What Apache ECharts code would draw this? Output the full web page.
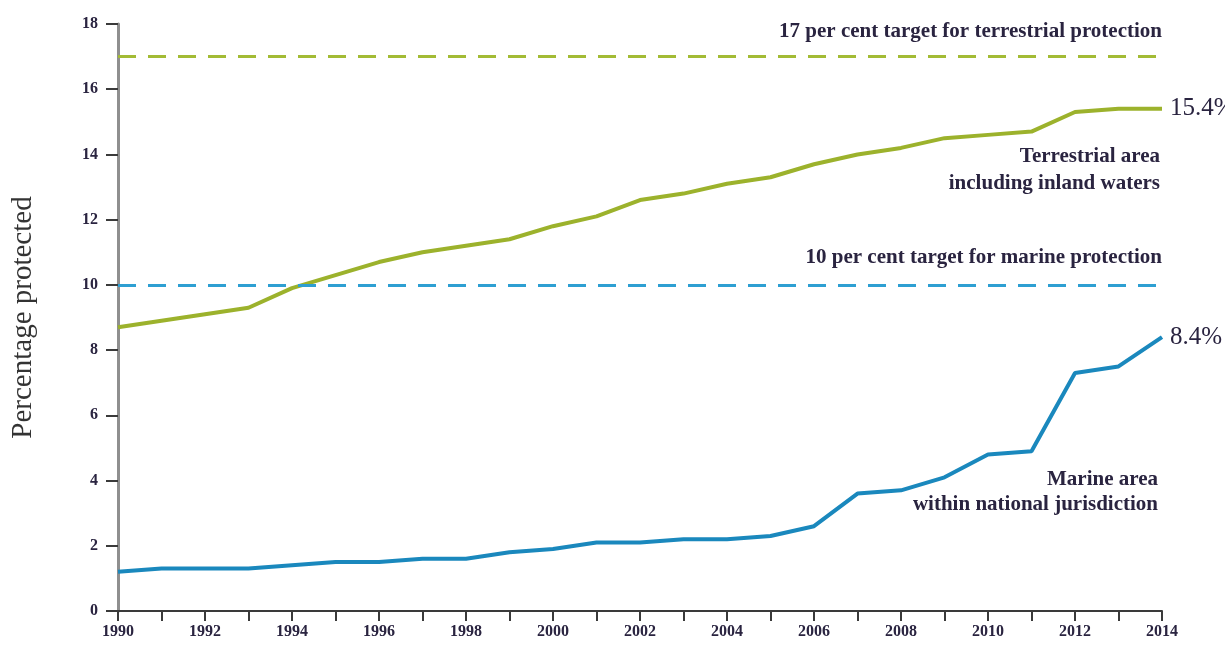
<!DOCTYPE html>
<html><head><meta charset="utf-8">
<script src="https://cdn.jsdelivr.net/npm/echarts@6/dist/echarts.min.js"></script>
<style>html,body{margin:0;padding:0;background:#fff}#c{width:1225px;height:646px}</style>
</head><body><div id="c"></div>
<script>
const years = [1990,1991,1992,1993,1994,1995,1996,1997,1998,1999,2000,2001,2002,2003,2004,2005,2006,2007,2008,2009,2010,2011,2012,2013,2014];
const terrestrial = [8.7,8.9,9.1,9.3,9.9,10.3,10.7,11.0,11.2,11.4,11.8,12.1,12.6,12.8,13.1,13.3,13.7,14.0,14.2,14.5,14.6,14.7,15.3,15.4,15.4];
const marine = [1.2,1.3,1.3,1.3,1.4,1.5,1.5,1.6,1.6,1.8,1.9,2.1,2.1,2.2,2.2,2.3,2.6,3.6,3.7,4.1,4.8,4.9,7.3,7.5,8.4];
const terrestrialTarget = 17;
const marineTarget = 10;
const yTicks = [0,2,4,6,8,10,12,14,16,18];

const green = '#9cb22c', blue = '#1a88bd';
const greenDash = '#a3bb35', blueDash = '#2e9fd2';
const serif = '"Liberation Serif","DejaVu Serif",serif';
const txt = '#2a2440';

const chart = echarts.init(document.getElementById('c'), null, {renderer:'canvas'});
const seriesData = (arr) => years.map((y,i)=>[y,arr[i]]);
chart.setOption({
  animation:false,
  grid:{left:118,right:63,top:24,bottom:35,containLabel:false},
  xAxis:{type:'value',min:1990,max:2014,interval:1,
    axisLine:{show:true,lineStyle:{color:'#3a3a3a',width:2}},
    axisTick:{show:true,length:10,inside:false,lineStyle:{color:'#3a3a3a',width:2}},
    axisLabel:{margin:13,fontFamily:serif,fontWeight:'bold',fontSize:16,color:txt,
      formatter:v=> (v%2===0? String(v):'')},
    splitLine:{show:false}},
  yAxis:{type:'value',min:0,max:18,interval:2,
    name:'Percentage protected',nameLocation:'middle',nameGap:80,nameRotate:90,
    nameTextStyle:{fontFamily:serif,fontSize:29,color:'#333'},
    axisLine:{show:true,lineStyle:{color:'#8f8f8f',width:3}},
    axisTick:{show:true,length:12,lineStyle:{color:'#3a3a3a',width:2}},
    axisLabel:{margin:20,fontFamily:serif,fontWeight:'bold',fontSize:16,color:txt,
      formatter:v=> yTicks.includes(v)? String(v):''},
    splitLine:{show:false}},
  series:[
    {type:'line',name:'Terrestrial',data:seriesData(terrestrial),showSymbol:false,symbol:'none',
      lineStyle:{color:green,width:4},
      endLabel:{show:true,formatter:p=>p.value[1].toFixed(1)+'%',fontFamily:serif,fontSize:25,color:txt,distance:8},
      markLine:{silent:true,symbol:'none',label:{show:false},
        lineStyle:{color:greenDash,type:[18,12],width:3},
        data:[{yAxis:terrestrialTarget}]}},
    {type:'line',name:'Marine',data:seriesData(marine),showSymbol:false,symbol:'none',
      lineStyle:{color:blue,width:4},
      endLabel:{show:true,formatter:p=>p.value[1].toFixed(1)+'%',fontFamily:serif,fontSize:25,color:txt,distance:8},
      markLine:{silent:true,symbol:'none',label:{show:false},
        lineStyle:{color:blueDash,type:[18,12],width:3},
        data:[{yAxis:marineTarget}]}}
  ],
  graphic:[
    {type:'text',right:63,top:21,style:{text:'17 per cent target for terrestrial protection',font:'bold 21px '+serif,fill:txt,textAlign:'right'}},
    {type:'text',right:63,top:247,style:{text:'10 per cent target for marine protection',font:'bold 21px '+serif,fill:txt,textAlign:'right'}},
    {type:'text',right:65,top:143,style:{text:'Terrestrial area\nincluding inland waters',font:'bold 21px '+serif,lineHeight:27,fill:txt,align:'right',textAlign:'right'}},
    {type:'text',right:67,top:467,style:{text:'Marine area\nwithin national jurisdiction',font:'bold 21px '+serif,lineHeight:25,fill:txt,align:'right',textAlign:'right'}}
  ]
});
</script></body></html>
